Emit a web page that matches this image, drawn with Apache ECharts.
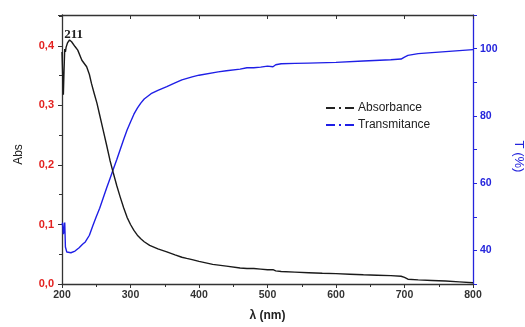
<!DOCTYPE html>
<html>
<head>
<meta charset="utf-8">
<script src="https://cdn.jsdelivr.net/npm/echarts@6/dist/echarts.min.js"></script>
<style>
  html, body { margin: 0; padding: 0; background: #fff; }
  #chart { width: 525px; height: 327px; }
</style>
</head>
<body>
<div id="chart"></div>
<script>
// UV-Vis spectrum: absorbance (left axis) and transmittance (right axis)
const absWavelength = [200, 201, 202, 203, 204, 205, 206, 208, 211, 214, 219, 223, 229, 236, 240, 243, 247, 251, 255, 260,
  265, 270, 275, 280, 285, 290, 295, 300, 305, 310, 315, 320, 328, 340, 353, 365, 375, 382, 390,
  400, 420, 440, 460, 470, 480, 490, 500, 508, 512, 520, 540, 560, 580, 600, 620, 640, 660, 680, 695,
  700, 705, 720, 740, 760, 780, 800];
const absorbance = [0.390, 0.350, 0.318, 0.360, 0.395, 0.390, 0.398, 0.405, 0.410, 0.407, 0.399, 0.393, 0.376, 0.365, 0.352, 0.337, 0.320, 0.304, 0.284, 0.259,
  0.234, 0.208, 0.186, 0.165, 0.146, 0.128, 0.112, 0.100, 0.090, 0.082, 0.076, 0.071, 0.065, 0.059, 0.054, 0.049, 0.045, 0.043, 0.041,
  0.038, 0.033, 0.030, 0.027, 0.026, 0.026, 0.025, 0.024, 0.024, 0.022, 0.021, 0.020, 0.019, 0.018, 0.0175, 0.0165, 0.0155, 0.0148, 0.014, 0.013,
  0.011, 0.008, 0.007, 0.006, 0.005, 0.0035, 0.002];

const trWavelength = [200, 201, 202, 203, 204, 205, 207, 209, 213, 219, 225, 230, 234, 240, 245, 250, 255, 260, 265,
  270, 275, 280, 285, 290, 295, 300, 305, 310, 315, 320, 330, 340, 353, 365, 375, 390, 400, 428, 440,
  460, 470, 480, 490, 500, 508, 512, 520, 540, 560, 600, 640, 680, 695, 700, 705, 720, 760, 800];
const transmittance = [47.5, 48.2, 44.8, 46.0, 48.3, 41.0, 39.5, 39.0, 39.3, 39.8, 40.8, 41.8, 42.5, 44.5, 47.3, 50.0, 52.5, 55.5, 58.5,
  61.3, 64.2, 67.0, 70.0, 73.0, 75.8, 78.2, 80.5, 82.3, 83.8, 85.0, 86.6, 87.6, 88.7, 89.8, 90.7, 91.6, 92.1, 93.1, 93.4,
  93.9, 94.3, 94.3, 94.5, 94.8, 94.6, 95.2, 95.5, 95.6, 95.7, 95.9, 96.3, 96.7, 96.9, 97.5, 98.0, 98.5, 99.1, 99.7];

// absorption maximum, annotated with its wavelength
const peakWavelength = 211;
const peakIndex = absWavelength.indexOf(peakWavelength);

const RED = '#e3211f';
const BLUE = '#2424dc';
const LINE_BLUE = '#1f1fe6';
const SANS = 'Arial, "Liberation Sans", sans-serif';

const absData = absWavelength.map((w, i) => [w, absorbance[i]]);
const trData = trWavelength.map((w, i) => [w, transmittance[i]]);

const dashDotIcon = 'path://M0,0h9v2h-9z M13,0h2v2h-2z M19,0h9v2h-9z';

const chart = echarts.init(document.getElementById('chart'), null, { renderer: 'canvas' });
chart.setOption({
  animation: false,
  backgroundColor: '#fff',
  grid: { left: 62, right: 52, top: 15, bottom: 43, containLabel: false, outerBoundsMode: 'none' },
  legend: {
    left: 321, top: 97, orient: 'vertical',
    itemWidth: 30, itemHeight: 2, itemGap: 5,
    icon: dashDotIcon,
    textStyle: { fontFamily: SANS, fontSize: 12, color: '#222', padding: [0, 0, 0, -2] },
    data: [
      { name: 'Absorbance', itemStyle: { color: '#222' } },
      { name: 'Transmitance', itemStyle: { color: LINE_BLUE } }
    ]
  },
  xAxis: [{
    type: 'value', min: 200, max: 800, interval: 100,
    name: 'λ (nm)', nameLocation: 'middle', nameGap: 26,
    nameTextStyle: { fontFamily: SANS, fontWeight: 'bold', fontSize: 12, color: '#222' },
    axisLine: { lineStyle: { color: '#333', width: 1.3 } },
    axisTick: { inside: false, length: 4, lineStyle: { color: '#333' } },
    minorTick: { show: true, splitNumber: 2, length: 3, lineStyle: { color: '#333' } },
    axisLabel: { fontFamily: SANS, fontWeight: 'bold', fontSize: 10.5, color: '#333', margin: 6 },
    splitLine: { show: false }
  }, {
    type: 'value', position: 'top', min: 200, max: 800, interval: 100,
    axisLine: { lineStyle: { color: '#333', width: 1.3 } },
    axisTick: { inside: true, length: 4, lineStyle: { color: '#333' } },
    minorTick: { show: false },
    axisLabel: { show: false },
    splitLine: { show: false }
  }],
  yAxis: [{
    type: 'value', min: 0, max: 0.452, interval: 0.1,
    name: 'Abs', nameLocation: 'middle', nameGap: 37, nameRotate: 90,
    nameTextStyle: { fontFamily: SANS, fontSize: 12, color: '#222', padding: [0, 10, 0, 0] },
    axisLine: { show: true, lineStyle: { color: '#333', width: 1.3 } },
    axisTick: { show: true, inside: false, length: 4, lineStyle: { color: '#333' } },
    minorTick: { show: true, splitNumber: 2, length: 3, lineStyle: { color: '#333' } },
    axisLabel: {
      fontFamily: SANS, fontWeight: 'bold', fontSize: 11, color: RED, margin: 8,
      formatter: v => v > 0.45 ? '' : v.toFixed(1).replace('.', ',')
    },
    splitLine: { show: false }
  }, {
    type: 'value', min: 30, max: 110, interval: 10,
    position: 'right',
    name: 'T (%)', nameLocation: 'middle', nameGap: 39, nameRotate: -90,
    nameTextStyle: { fontFamily: SANS, fontSize: 13, color: BLUE, padding: [0, 0, 0, 14] },
    axisLine: { show: true, lineStyle: { color: BLUE, width: 1.3 } },
    axisTick: { show: true, inside: false, length: 4, lineStyle: { color: BLUE } },
    minorTick: { show: false },
    axisLabel: {
      fontFamily: SANS, fontWeight: 'bold', fontSize: 10.5, color: BLUE, margin: 7,
      formatter: v => (v % 20 === 0 && v >= 40 && v <= 100) ? String(v) : ''
    },
    splitLine: { show: false }
  }],
  series: [{
    name: 'Absorbance', type: 'line', xAxisIndex: 0, yAxisIndex: 0,
    data: absData, showSymbol: false, symbol: 'none',
    lineStyle: { color: '#1a1a1a', width: 1.4 },
    itemStyle: { color: '#222' },
    markPoint: {
      symbol: 'circle', symbolSize: 1,
      itemStyle: { color: 'rgba(0,0,0,0)' },
      label: {
        show: true, position: 'top', distance: 3, offset: [4, 5],
        formatter: p => String(p.data.coord[0]),
        fontFamily: '"Liberation Serif", "DejaVu Serif", serif',
        fontWeight: 'bold', fontSize: 13, color: '#222'
      },
      data: [{ coord: [absWavelength[peakIndex], absorbance[peakIndex]] }]
    },
    z: 3
  }, {
    name: 'Transmitance', type: 'line', xAxisIndex: 0, yAxisIndex: 1,
    data: trData, showSymbol: false, symbol: 'none',
    lineStyle: { color: LINE_BLUE, width: 1.4 },
    itemStyle: { color: LINE_BLUE },
    z: 2
  }]
});
</script>
</body>
</html>
